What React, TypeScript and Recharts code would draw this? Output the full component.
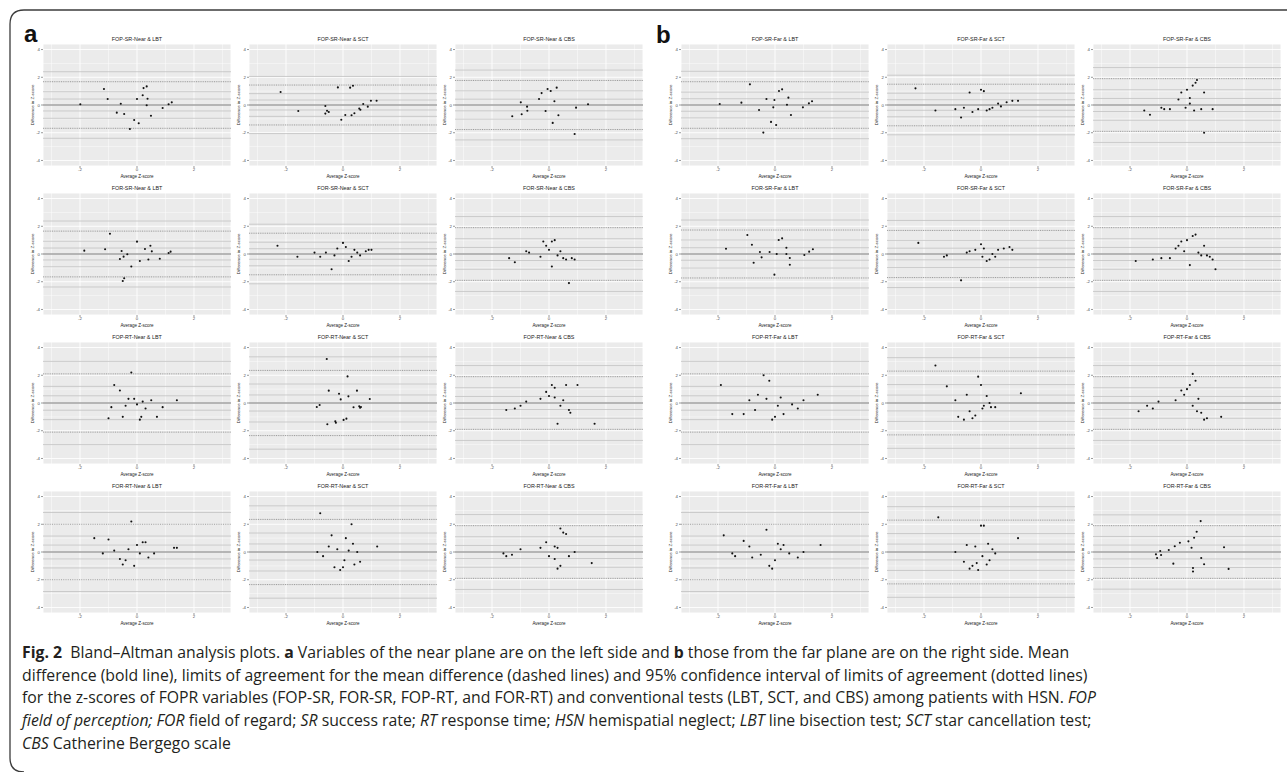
import React from "react";
import { ScatterChart, Scatter, XAxis, YAxis, CartesianGrid, ReferenceLine } from "recharts";

// each point: [average z-score, difference in z-score]
type Pair = [number, number];

// ---- panel a: near plane ----
const fopSrNearLbt: Pair[] = [
  [-1.99, 0.05], [-1.16, 1.15], [-1.03, 0.43], [-0.71, -0.55], [-0.57, 0.09], [-0.45, -0.65],
  [-0.25, -1.73], [-0.1, -1.08], [0, 0.43], [0.06, -1.32], [0.2, 0.7], [0.23, 1.22],
  [0.34, 1.34], [0.37, 0.45], [0.34, -0.02], [0.49, -0.77], [0.9, -0.22], [1.11, 0.05], [1.22, 0.19],
];
const fopSrNearSct: Pair[] = [
  [-2.19, 0.94], [-1.57, -0.43], [-0.62, -0.07], [-0.56, -0.41], [-0.5, -0.5], [-0.62, -0.62],
  [-0.18, 1.27], [-0.06, -1.06], [0.08, -0.72], [0.25, 1.25], [0.35, 1.39], [0.3, -0.74],
  [0.4, -0.6], [0.57, -0.26], [0.61, -0.34], [0.71, 0.07], [0.87, -0.12], [0.98, 0.31], [1.18, 0.31],
];
const fopSrNearCbs: Pair[] = [
  [-1.29, -0.81], [-0.99, 0.19], [-0.96, -0.67], [-0.77, -0.12], [-0.76, -0.41], [-0.35, 0.43],
  [-0.26, 0.86], [-0.12, -0.43], [-0.05, 1.15], [0.06, 1.01], [0.13, -1.29], [0.19, 0.27],
  [0.27, 1.25], [0.33, -0.74], [0.95, -0.19], [1.37, 0.05], [0.9, -2.09],
];
const fopSrFarLbt: Pair[] = [
  [-1.94, 0.07], [-1.18, 0.17], [-0.88, 1.49], [-0.56, -0.36], [-0.3, 0.43], [-0.14, -1.22],
  [-0.06, -0.17], [-0.02, 0.36], [0.04, -1.44], [-0.41, -1.99], [0.14, 1.01], [0.25, 1.13],
  [0.42, 0.02], [0.47, 0.53], [0.56, -0.72], [0.98, -0.17], [1.19, 0.12], [1.3, 0.27],
];
const fopSrFarSct: Pair[] = [
  [-2.3, 1.2], [-1.6, -0.4], [-0.9, -0.3], [-0.7, -0.9], [-0.6, -0.2], [-0.4, 0.9],
  [-0.3, -0.5], [-0.1, -0.3], [0, 1.1], [0.1, 1.0], [0.2, -0.4], [0.3, -0.3],
  [0.4, -0.2], [0.6, 0.1], [0.7, -0.1], [0.9, 0.2], [1.1, 0.3], [1.3, 0.3],
];
const fopSrFarCbs: Pair[] = [
  [-1.5, -0.4], [-1.3, -0.7], [-0.9, -0.2], [-0.8, -0.3], [-0.6, -0.3], [-0.3, 0.4],
  [-0.2, 0.9], [0, 1.1], [0.1, 0.5], [0.2, 1.4], [0.3, 1.6], [0.35, 1.8], [0.1, 0.1],
  [0.25, -0.4], [0.5, -0.3], [0.6, 0.9], [0.6, -2.0], [0.9, -0.3], [-0.05, -0.2],
];

const forSrNearLbt: Pair[] = [
  [-1.85, 0.24], [-1.12, 0.34], [-0.95, 1.46], [-0.54, 0.22], [-0.47, -0.19], [-0.34, -0.02],
  [-0.6, -0.36], [0, 0.89], [0.28, 0.36], [0.47, 0.6], [0.52, 0.19], [0.8, -0.34],
  [1.11, 0.07], [1.18, 0.17], [-0.45, -1.75], [-0.5, -1.95], [0.1, -0.5], [0.4, -0.4], [-0.2, -0.9],
];
const forSrNearSct: Pair[] = [
  [-2.3, 0.6], [-1.6, -0.2], [-1.0, 0.1], [-0.8, -0.2], [-0.6, 0.1], [-0.4, -1.1],
  [-0.3, -0.1], [-0.2, 0.4], [0, 0.8], [0.1, 0.5], [0.2, -0.5], [0.3, -0.2],
  [0.4, 0.3], [0.5, 0.1], [0.6, -0.1], [0.8, 0.2], [0.9, 0.3], [1.0, 0.3],
];
const forSrNearCbs: Pair[] = [
  [-1.4, -0.3], [-1.2, -0.6], [-0.8, 0.2], [-0.7, 0.1], [-0.3, -0.2], [-0.1, 0.6],
  [0, 0.3], [0.1, 0.9], [0.2, 1.0], [0.1, -0.9], [0.3, -0.1], [0.5, -0.3],
  [0.6, -0.4], [0.7, -2.1], [0.8, -0.3], [0.9, -0.4], [-0.2, 0.9], [0.4, 0.2],
];
const forSrFarLbt: Pair[] = [
  [-1.72, 0.38], [-0.97, 1.37], [-0.81, 0.67], [-0.75, -0.63], [-0.53, 0.14], [-0.47, -0.24],
  [-0.19, 0.14], [-0.02, -1.49], [0.06, 0], [0.13, 1.01], [0.25, 1.13], [0.4, 0.45],
  [0.4, 0], [0.52, -0.29], [0.52, -0.77], [1.03, -0.07], [1.2, 0.17], [1.33, 0.34],
];
const forSrFarSct: Pair[] = [
  [-2.2, 0.8], [-1.3, -0.2], [-1.2, -0.1], [-0.7, -1.9], [-0.5, 0.1], [-0.4, 0.2],
  [-0.2, 0.3], [0, 0.7], [0.05, -0.2], [0.1, 0.4], [0.2, -0.5], [0.3, -0.4],
  [0.4, 0], [0.6, 0.3], [0.8, 0.4], [1.0, 0.5], [1.1, 0.3], [0.5, -0.2],
];
const forSrFarCbs: Pair[] = [
  [-1.8, -0.5], [-1.2, -0.4], [-0.9, -0.3], [-0.6, -0.3], [-0.4, 0.4], [-0.3, 0.6],
  [-0.2, 0.9], [-0.1, 0.2], [0, 1.0], [0.1, -0.8], [0.2, 1.3], [0.3, 1.4],
  [0.5, -0.1], [0.6, 0.6], [0.7, -0.1], [0.9, -0.4], [1.0, -1.1], [0.4, 0.1], [0.8, -0.2],
];

const fopRtNearLbt: Pair[] = [
  [-0.8, 1.3], [-0.6, 0.9], [-0.9, -0.3], [-1.0, -1.1], [-0.5, -1.0], [-0.3, 0.3],
  [-0.2, 2.2], [-0.1, 0.3], [0, -0.1], [0.1, -1.2], [0.15, -1.0], [0.2, 0.1],
  [0.3, -0.4], [0.5, 0.2], [0.7, -1.0], [0.9, -0.3], [1.4, 0.2], [-0.4, -0.2],
];
const fopRtNearSct: Pair[] = [
  [-0.57, 3.17], [0.16, 1.92], [-0.5, 0.89], [-0.14, 0.67], [0.49, 0.89], [-0.08, 0.26],
  [0.19, 0.48], [0.94, 0.29], [-0.82, -0.14], [-0.92, -0.29], [0.37, -0.31], [0.57, -0.24],
  [0.63, -0.29], [0.6, -0.34], [-0.27, -1.32], [-0.25, -1.42], [0.02, -1.22], [0.12, -1.13], [-0.55, -1.53],
];
const fopRtNearCbs: Pair[] = [
  [-1.5, -0.5], [-1.2, -0.4], [-1.0, -0.2], [-0.8, 0.1], [-0.3, 0.3], [-0.1, 0.8],
  [0, 0.5], [0.1, 1.3], [0.2, 0.4], [0.3, -1.5], [0.4, -0.2], [0.5, 0.2],
  [0.6, 1.3], [0.7, -0.5], [0.75, -0.7], [1.0, 1.3], [1.6, -1.5], [0.2, 1.1],
];
const fopRtFarLbt: Pair[] = [
  [-1.9, 1.3], [-1.5, -0.8], [-1.1, -0.8], [-0.9, 0.2], [-0.7, -0.5], [-0.6, 0.6],
  [-0.4, 2.0], [-0.3, 0.3], [-0.2, 1.6], [-0.1, -1.2], [0, -1.0], [0.1, -0.2],
  [0.2, 0.4], [0.3, -0.8], [0.6, -0.1], [0.8, -0.4], [1.0, 0.2], [1.5, 0.6],
];
const fopRtFarSct: Pair[] = [
  [-1.6, 2.7], [-1.2, 1.2], [-0.9, 0.2], [-0.8, -1.0], [-0.6, -1.2], [-0.5, 0.6],
  [-0.4, -0.6], [-0.3, -1.1], [-0.1, 1.9], [0, 1.3], [0.05, -0.4], [0.1, -0.2],
  [0.2, 0.5], [0.3, 0], [0.35, -0.3], [-0.2, -0.9], [1.4, 0.7], [0.5, -0.3],
];
const fopRtFarCbs: Pair[] = [
  [-1.7, -0.6], [-1.4, -0.2], [-1.2, -0.4], [-1.0, 0.1], [-0.4, 0.2], [-0.2, 0.9],
  [-0.1, 0.6], [0, 1.0], [0.1, 1.3], [0.2, 2.1], [0.3, 1.6], [0.35, -0.6],
  [0.5, -0.7], [0.6, -1.2], [0.7, -1.1], [0.2, -0.2], [1.2, -1.0], [0.4, 0.3],
];

const forRtNearLbt: Pair[] = [
  [-1.5, 1.0], [-1.2, -0.1], [-1.0, 0.9], [-0.8, 0.1], [-0.6, -0.5], [-0.5, -0.9],
  [-0.3, 0.2], [-0.2, 2.2], [-0.1, -1.0], [0, 0.5], [0.1, -0.1], [0.2, 0.7],
  [0.3, 0.7], [0.4, -0.4], [0.6, -0.1], [1.3, 0.3], [1.4, 0.3], [-0.4, -0.6],
];
const forRtNearSct: Pair[] = [
  [-0.8, 2.8], [-0.9, 0], [-0.7, -0.3], [-0.5, 0.4], [-0.4, 1.2], [-0.3, -1.1],
  [-0.2, 0.2], [-0.1, -1.3], [0, -1.1], [0.05, -0.6], [0.1, 1.0], [0.2, 0.1],
  [0.3, 2.0], [0.4, -0.9], [0.5, 0], [0.6, -0.7], [1.2, 0.4], [0.35, 0.6],
];
const forRtNearCbs: Pair[] = [
  [-1.6, -0.1], [-1.5, -0.3], [-1.3, -0.2], [-1.0, 0.2], [-0.3, 0.3], [-0.1, 0.7],
  [0, -0.3], [0.2, 0.4], [0.3, 0.3], [0.4, 1.7], [0.5, 1.4], [0.6, 1.3],
  [0.3, -1.2], [0.4, -1.0], [0.7, -0.3], [0.9, 0.0], [1.5, -0.8], [0.2, -0.5],
];
const forRtFarLbt: Pair[] = [
  [-1.8, 1.2], [-1.5, -0.1], [-1.4, -0.3], [-1.1, 0.8], [-0.9, 0.4], [-0.8, -0.4],
  [-0.5, -0.2], [-0.3, 1.6], [-0.2, -1.0], [-0.1, -1.2], [0, -0.6], [0.1, 0.6],
  [0.2, 0.2], [0.3, 0.5], [0.5, -0.1], [0.8, -0.4], [1.0, 0], [1.6, 0.5],
];
const forRtFarSct: Pair[] = [
  [-1.5, 2.5], [-0.9, 0], [-0.6, -0.7], [-0.5, 0.5], [-0.4, -1.2], [-0.3, -1.0],
  [-0.2, 0.4], [-0.1, -1.3], [0, 1.9], [0.05, -0.3], [0.1, 1.9], [0.2, -0.9],
  [0.3, -0.6], [0.4, 0.2], [0.5, -0.1], [1.3, 1.0], [-0.15, -0.8], [0.25, 0.6],
];
const forRtFarCbs: Pair[] = [
  [-1.09, -0.17], [-1.05, -0.43], [-0.94, 0.07], [-0.91, -0.22], [-0.64, 0.14], [-0.48, -0.84],
  [-0.43, 0.41], [-0.25, 0.67], [0.05, 0.77], [0.16, 0.31], [0.25, 1.03], [0.34, 1.46],
  [0.48, 2.23], [0.5, -0.43], [0.21, -1.15], [0.21, -1.41], [0.6, -0.88], [1.3, 0.34], [1.46, -1.22],
];

// grid of plots, row by row (rows: FOP-SR, FOR-SR, FOP-RT, FOR-RT)
const plotData: Pair[][] = [
  fopSrNearLbt, fopSrNearSct, fopSrNearCbs, fopSrFarLbt, fopSrFarSct, fopSrFarCbs,
  forSrNearLbt, forSrNearSct, forSrNearCbs, forSrFarLbt, forSrFarSct, forSrFarCbs,
  fopRtNearLbt, fopRtNearSct, fopRtNearCbs, fopRtFarLbt, fopRtFarSct, fopRtFarCbs,
  forRtNearLbt, forRtNearSct, forRtNearCbs, forRtFarLbt, forRtFarSct, forRtFarCbs,
];
const variables = ["FOP-SR", "FOR-SR", "FOP-RT", "FOR-RT"];
const planes = ["Near", "Near", "Near", "Far", "Far", "Far"];
const tests = ["LBT", "SCT", "CBS", "LBT", "SCT", "CBS"];

// mean difference, limits of agreement (±), and CI half-widths
const meanDiff = new Array(24).fill(0);
const loaHalf = [
  1.68, 1.44, 1.77, 1.68, 1.5, 1.9,
  1.65, 1.5, 1.9, 1.73, 1.7, 1.9,
  2.1, 2.35, 1.9, 2.1, 2.3, 1.9,
  2.0, 2.35, 1.9, 2.0, 2.3, 1.9,
];
const loaCi = [
  0.72, 0.62, 0.75, 0.75, 0.65, 0.8,
  0.73, 0.65, 0.8, 0.72, 0.72, 0.8,
  0.9, 0.98, 0.8, 0.9, 0.97, 0.8,
  0.85, 0.98, 0.8, 0.85, 0.97, 0.78,
];
const meanCi = [
  0.43, 0.36, 0.42, 0.45, 0.38, 0.47,
  0.43, 0.38, 0.47, 0.45, 0.42, 0.47,
  0.52, 0.58, 0.47, 0.52, 0.57, 0.47,
  0.5, 0.58, 0.47, 0.5, 0.57, 0.5,
];

const xTicks = [-2, 0, 2];
const yTicks = [-4, -2, 0, 2, 4];
const xMinor = [-3, -1, 1, 3];
const yMinor = [-3, -1, 1, 3];

// layout
const COL_LEFT = [43, 249, 455, 681, 887, 1093];
const ROW_TOP0 = 44;
const ROW_STEP = 149;
const PANEL_W = 188;
const PANEL_H = 122;
const Y_AXIS_W = 18;
const X_AXIS_H = 9;
const FONT = "'Liberation Sans', Arial, sans-serif";

const dot = (p: any) => <circle cx={p.cx} cy={p.cy} r={1.05} fill="#111" />;

function BlandAltman({ idx, left, top }: { idx: number; left: number; top: number }) {
  const data = plotData[idx].map(([avg, diff]) => ({ avg, diff }));
  const m = meanDiff[idx];
  const up = m + loaHalf[idx];
  const lo = m - loaHalf[idx];
  const ciLines = [m - meanCi[idx], m + meanCi[idx], up - loaCi[idx], up + loaCi[idx], lo - loaCi[idx], lo + loaCi[idx]];
  return (
    <div style={{ position: "absolute", left: left - Y_AXIS_W, top }}>
      <ScatterChart
        width={Y_AXIS_W + PANEL_W}
        height={PANEL_H + X_AXIS_H}
        margin={{ top: 0, right: 0, bottom: 0, left: 0 }}
      >
        <CartesianGrid fill="#ebebeb" stroke="#ffffff" strokeWidth={0.9} />
        <XAxis
          type="number"
          dataKey="avg"
          domain={[-3.3, 3.3]}
          ticks={xTicks}
          allowDataOverflow
          height={X_AXIS_H}
          axisLine={false}
          tickSize={2}
          tickMargin={0}
          tickLine={{ stroke: "#333", strokeWidth: 0.5 }}
          tick={{ fontSize: 4.3, fill: "#4d4d4d", fontFamily: FONT }}
        />
        <YAxis
          type="number"
          dataKey="diff"
          domain={[-4.4, 4.4]}
          ticks={yTicks}
          allowDataOverflow
          width={Y_AXIS_W}
          axisLine={false}
          tickSize={2}
          tickMargin={1}
          tickLine={{ stroke: "#333", strokeWidth: 0.5 }}
          tick={{ fontSize: 4.3, fill: "#4d4d4d", fontFamily: FONT }}
        />
        {xMinor.map((v) => (
          <ReferenceLine key={"vx" + v} x={v} stroke="#ffffff" strokeWidth={0.45} />
        ))}
        {yMinor.map((v) => (
          <ReferenceLine key={"hy" + v} y={v} stroke="#ffffff" strokeWidth={0.45} />
        ))}
        {ciLines.map((v, i) => (
          <ReferenceLine key={"ci" + i} y={v} stroke="#c2c2c2" strokeWidth={0.8} />
        ))}
        <ReferenceLine y={up} stroke="#858585" strokeWidth={0.8} strokeDasharray="1 0.8" />
        <ReferenceLine y={lo} stroke="#858585" strokeWidth={0.8} strokeDasharray="1 0.8" />
        <ReferenceLine y={m} stroke="#a0a0a0" strokeWidth={1.5} />
        <Scatter data={data} isAnimationActive={false} shape={dot} />
      </ScatterChart>
    </div>
  );
}

export default function App() {
  const plots = [];
  const labels = [];
  for (let r = 0; r < 4; r++) {
    for (let c = 0; c < 6; c++) {
      const idx = r * 6 + c;
      const left = COL_LEFT[c];
      const top = ROW_TOP0 + r * ROW_STEP;
      plots.push(<BlandAltman key={idx} idx={idx} left={left} top={top} />);
      const cx = left + PANEL_W / 2;
      const cy = top + PANEL_H / 2;
      labels.push(
        <g key={"l" + idx} fontFamily={FONT}>
          <text x={cx} y={top - 3} fontSize={5.4} fill="#1a1a1a" textAnchor="middle">
            {`${variables[r]}-${planes[c]} & ${tests[c]}`}
          </text>
          <text x={cx} y={top + PANEL_H + 12} fontSize={4.5} fill="#1a1a1a" textAnchor="middle">
            Average Z-score
          </text>
          <text
            x={left - 9}
            y={cy}
            fontSize={4.4}
            fill="#1a1a1a"
            textAnchor="middle"
            transform={`rotate(-90 ${left - 9} ${cy})`}
          >
            Difference in Z-score
          </text>
        </g>
      );
    }
  }
  return (
    <div style={{ position: "absolute", left: 0, top: 0, width: 1287, height: 772, background: "#fff", overflow: "hidden" }}>
      {plots}
      <svg width={1287} height={772} style={{ position: "absolute", left: 0, top: 0, pointerEvents: "none" }}>
        <path d="M 1300 10 L 24 10 Q 10 10 10 24 L 10 758 Q 10 772 24 772" fill="none" stroke="#3c3c3c" strokeWidth={1.3} />
        <text x={24} y={42} fontSize={24} fontWeight="bold" fontFamily={FONT} fill="#111">a</text>
        <text x={656} y={43} fontSize={24} fontWeight="bold" fontFamily={FONT} fill="#111">b</text>
        {labels}
      </svg>
      <div
        style={{
          position: "absolute",
          left: 22,
          top: 641,
          fontFamily: "'Open Sans', 'Noto Sans', sans-serif",
          fontSize: 15.8,
          lineHeight: "22.7px",
          color: "#231f20",
          whiteSpace: "nowrap",
        }}
      >
        <b>Fig. 2</b>&nbsp; Bland–Altman analysis plots. <b>a</b> Variables of the near plane are on the left side and <b>b</b> those from the far plane are on the right side. Mean
        <br />
        difference (bold line), limits of agreement for the mean difference (dashed lines) and 95% confidence interval of limits of agreement (dotted lines)
        <br />
        for the z-scores of FOPR variables (FOP-SR, FOR-SR, FOP-RT, and FOR-RT) and conventional tests (LBT, SCT, and CBS) among patients with HSN. <i>FOP</i>
        <br />
        <i>field of perception; FOR</i> field of regard; <i>SR</i> success rate; <i>RT</i> response time; <i>HSN</i> hemispatial neglect; <i>LBT</i> line bisection test; <i>SCT</i> star cancellation test;
        <br />
        <i>CBS</i> Catherine Bergego scale
      </div>
    </div>
  );
}
